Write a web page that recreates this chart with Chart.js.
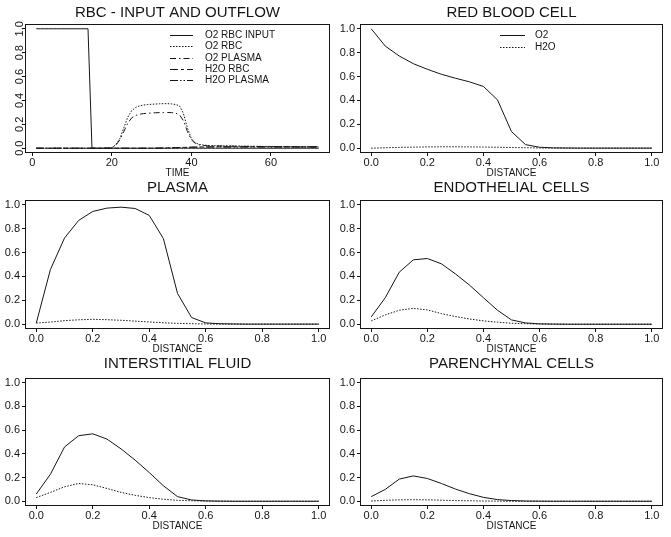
<!DOCTYPE html>
<html><head><meta charset="utf-8">
<script src="https://cdn.jsdelivr.net/npm/chart.js@4/dist/chart.umd.min.js"></script>
<style>
html,body{margin:0;padding:0;background:#fff;}
body{width:671px;height:537px;position:relative;overflow:hidden;}
canvas{position:absolute;}
</style></head><body>
<canvas id="c1"></canvas><canvas id="c2"></canvas><canvas id="c3"></canvas>
<canvas id="c4"></canvas><canvas id="c5"></canvas><canvas id="c6"></canvas>
<script>
// ---------- data ----------
const TIME = [1,2,3,4,5,6,7,8,9,10,11,12,13,14,15,16,17,18,19,20,21,22,23,24,25,26,27,28,29,30,31,32,33,34,35,36,37,38,39,40,41,42,43,44,45,46,47,48,49,50,51,52,53,54,55,56,57,58,59,60,61,62,63,64,65,66,67,68,69,70,71,72];
const O2_RBC_INPUT = [1,1,1,1,1,1,1,1,1,1,1,1,1,1,0,0,0,0,0,0,0,0,0,0,0,0,0,0,0,0,0,0,0,0,0,0,0,0,0,0,0,0,0,0,0,0,0,0,0,0,0,0,0,0,0,0,0,0,0,0,0,0,0,0,0,0,0,0,0,0,0,0];
const O2_RBC = [0,0,0,0,0,0,0,0,0,0,0,0,0,0,0,0,0,0,0,0.004,0.03,0.08,0.17,0.26,0.315,0.342,0.355,0.362,0.366,0.368,0.37,0.372,0.373,0.373,0.371,0.366,0.355,0.29,0.17,0.08,0.045,0.032,0.027,0.024,0.022,0.021,0.02,0.02,0.019,0.019,0.018,0.018,0.017,0.017,0.016,0.016,0.016,0.015,0.015,0.015,0.014,0.014,0.014,0.013,0.013,0.013,0.013,0.012,0.012,0.012,0.012,0.012];
const O2_PLASMA = [0,0,0,0,0,0,0,0,0,0,0,0,0,0,0,0,0,0,0,0.003,0.025,0.07,0.14,0.21,0.255,0.275,0.285,0.29,0.293,0.295,0.297,0.298,0.299,0.299,0.298,0.294,0.28,0.23,0.14,0.07,0.04,0.028,0.023,0.021,0.02,0.019,0.019,0.018,0.018,0.017,0.017,0.016,0.016,0.015,0.015,0.015,0.014,0.014,0.014,0.013,0.013,0.013,0.012,0.012,0.012,0.012,0.011,0.011,0.011,0.011,0.011,0.011];
const H2O_RBC = [0,0,0,0,0,0,0,0,0,0,0,0,0,0,0,0,0,0,0,0,0,0,0,0,0,0,0,0,0,0,0.001,0.001,0.002,0.003,0.004,0.005,0.006,0.007,0.008,0.009,0.01,0.01,0.011,0.011,0.012,0.012,0.012,0.012,0.012,0.012,0.012,0.012,0.012,0.012,0.012,0.012,0.012,0.012,0.012,0.012,0.012,0.012,0.012,0.012,0.012,0.012,0.012,0.012,0.012,0.012,0.012,0.012];
const H2O_PLASMA = [0,0,0,0,0,0,0,0,0,0,0,0,0,0,0,0,0,0,0,0,0,0,0,0,0,0,0,0,0,0,0,0.001,0.001,0.002,0.003,0.004,0.005,0.006,0.007,0.008,0.008,0.009,0.009,0.009,0.01,0.01,0.01,0.01,0.01,0.01,0.01,0.01,0.01,0.01,0.01,0.01,0.01,0.01,0.01,0.01,0.01,0.01,0.01,0.01,0.01,0.01,0.01,0.01,0.01,0.01,0.01,0.01];

const DISTANCE = [0,0.05,0.1,0.15,0.2,0.25,0.3,0.35,0.4,0.45,0.5,0.55,0.6,0.65,0.7,0.75,0.8,0.85,0.9,0.95,1.0];
const RBC_O2 = [1.0,0.855,0.772,0.708,0.661,0.619,0.586,0.556,0.517,0.405,0.139,0.03,0.008,0.003,0.002,0.001,0.001,0.001,0.001,0.001,0.001];
const RBC_H2O = [0.0,0.004,0.007,0.009,0.011,0.012,0.012,0.011,0.01,0.008,0.006,0.004,0.002,0.001,0,0,0,0,0,0,0];
const PLASMA_O2 = [0.01,0.458,0.722,0.869,0.944,0.972,0.98,0.969,0.911,0.717,0.258,0.056,0.011,0.004,0.002,0.001,0.001,0.001,0.001,0.001,0.001];
const PLASMA_H2O = [0.01,0.018,0.03,0.037,0.041,0.038,0.033,0.026,0.019,0.012,0.007,0.004,0.002,0.001,0.001,0,0,0,0,0,0];
const ENDO_O2 = [0.061,0.222,0.436,0.539,0.55,0.506,0.422,0.328,0.222,0.117,0.036,0.011,0.003,0.001,0,0,0,0,0,0,0];
const ENDO_H2O = [0.028,0.078,0.117,0.133,0.12,0.089,0.064,0.044,0.028,0.017,0.008,0.004,0.002,0.001,0,0,0,0,0,0,0];
const ISF_O2 = [0.061,0.228,0.458,0.553,0.569,0.525,0.442,0.347,0.242,0.131,0.039,0.011,0.003,0.001,0,0,0,0,0,0,0];
const ISF_H2O = [0.031,0.075,0.122,0.15,0.139,0.108,0.075,0.05,0.031,0.017,0.008,0.004,0.002,0.001,0,0,0,0,0,0,0];
const PAR_O2 = [0.039,0.1,0.187,0.214,0.192,0.15,0.103,0.064,0.033,0.014,0.006,0.002,0.001,0,0,0,0,0,0,0,0];
const PAR_H2O = [0.002,0.008,0.012,0.013,0.012,0.009,0.006,0.004,0.002,0.001,0,0,0,0,0,0,0,0,0,0,0];

const Y_TICKS = [0,0.2,0.4,0.6,0.8,1.0];
const TIME_TICKS = [0,20,40,60];
const DIST_TICKS = [0,0.2,0.4,0.6,0.8,1.0];

// ---------- styles ----------
const FONT = '"Liberation Sans", Arial, Helvetica, sans-serif';
const INK = '#151515';
const SOLID = [], DOT = [1.5,1.5], DASHDOT = [6,3,1.5,3], LONGSHORT = [8,3,3,3], DASHDOTDOT = [8,2,1.5,2,1.5,2];
Chart.defaults.font.family = FONT;
Chart.defaults.color = INK;

const framePlugin = {
  id: 'frame',
  afterDatasetsDraw(chart, args, o) {
    const {ctx, chartArea: a} = chart;
    ctx.save();
    ctx.strokeStyle = INK; ctx.lineWidth = 1; ctx.setLineDash([]);
    const l = Math.round(a.left) + 0.5, t = Math.round(a.top) + 0.5;
    const r = Math.round(a.right) - 0.5, b = Math.round(a.bottom) - 0.5;
    ctx.strokeRect(l, t, r - l, b - t);
    if (o && o.legend) {
      const L = o.legend;
      ctx.font = '10px ' + FONT; ctx.fillStyle = INK; ctx.textBaseline = 'middle'; ctx.textAlign = 'left';
      chart.data.datasets.forEach((ds, i) => {
        const y = Math.round(L.y0 + i * L.dy) + 0.5;
        ctx.beginPath(); ctx.setLineDash(ds.borderDash || []);
        ctx.moveTo(L.x0, y); ctx.lineTo(L.x1, y); ctx.stroke();
        ctx.setLineDash([]);
        ctx.fillText(ds.label, L.tx, y);
      });
    }
    ctx.restore();
  }
};

function makePanel(id, box, title, titlePad, xs, series, xOpt, legend, rotatedY) {
  const cv = document.getElementById(id);
  cv.width = box.w; cv.height = box.h;
  cv.style.left = box.x + 'px'; cv.style.top = box.y + 'px';
  cv.style.width = box.w + 'px'; cv.style.height = box.h + 'px';
  const datasets = series.map(s => ({
    label: s.label,
    data: s.data.map((v, i) => ({x: xs[i], y: v})),
    borderColor: INK, borderWidth: 1, borderDash: s.dash,
    pointRadius: 0, tension: 0, fill: false
  }));
  const yTicks = rotatedY
    ? {font: {size: 11}, color: INK, minRotation: 90, maxRotation: 90, crossAlign: 'center', padding: -6, callback: v => v.toFixed(1)}
    : {font: {size: 11}, color: INK, padding: 2, callback: v => v.toFixed(1)};
  new Chart(cv, {
    type: 'line',
    data: {datasets},
    options: {
      responsive: false, animation: false,
      layout: {padding: {left: 0, right: box.pr, top: 0, bottom: box.pb}},
      plugins: {
        legend: {display: false}, tooltip: {enabled: false},
        title: {display: true, fullSize: false, text: title, color: INK, font: {size: 15, weight: 'normal'}, padding: titlePad},
        frame: {legend}
      },
      scales: {
        x: {
          type: 'linear', min: xOpt.min, max: xOpt.max,
          afterBuildTicks: s => { s.ticks = xOpt.ticks.map(v => ({value: v})); },
          afterFit: s => { s.height = 26; },
          grid: {drawOnChartArea: false, drawTicks: true, tickLength: 3, color: INK},
          border: {display: false},
          ticks: {font: {size: 11}, color: INK, padding: 0, maxRotation: 0, autoSkip: false, callback: xOpt.fmt},
          title: {display: true, text: xOpt.title, color: INK, font: {size: 10}, padding: {top: 0, bottom: 0}}
        },
        y: {
          type: 'linear', min: -0.04, max: 1.04,
          afterBuildTicks: s => { s.ticks = Y_TICKS.map(v => ({value: v})); },
          afterFit: s => { s.width = 25; },
          grid: {drawOnChartArea: false, drawTicks: true, tickLength: 3, color: INK},
          border: {display: false},
          ticks: yTicks
        }
      }
    },
    plugins: [framePlugin]
  });
}

const timeX = {min: -1.84, max: 74.84, ticks: TIME_TICKS, fmt: v => String(v), title: 'TIME'};
const distX = {min: -0.04, max: 1.04, ticks: DIST_TICKS, fmt: v => v.toFixed(1), title: 'DISTANCE'};

const L = {w: 335, pr: 5}, R = {w: 336, pr: 8};
const rows = [{y: 0, h: 180, pb: 1, tp: {top: 4, bottom: 2}},
              {y: 176, h: 180, pb: 1, tp: {top: 3, bottom: 3}},
              {y: 354, h: 183, pb: 5, tp: {top: 1, bottom: 5}}];
function bx(col, row, x) { return {x, y: row.y, w: col.w, h: row.h, pr: col.pr, pb: row.pb}; }

makePanel('c1', bx(L, rows[0], 0), 'RBC - INPUT AND OUTFLOW', rows[0].tp, TIME, [
  {label: 'O2 RBC INPUT', data: O2_RBC_INPUT, dash: SOLID},
  {label: 'O2 RBC', data: O2_RBC, dash: DOT},
  {label: 'O2 PLASMA', data: O2_PLASMA, dash: DASHDOT},
  {label: 'H2O RBC', data: H2O_RBC, dash: LONGSHORT},
  {label: 'H2O PLASMA', data: H2O_PLASMA, dash: DASHDOTDOT}
], timeX, {x0: 170, x1: 193, tx: 205, y0: 35, dy: 11.3}, true);

makePanel('c2', bx(R, rows[0], 335), 'RED BLOOD CELL', rows[0].tp, DISTANCE, [
  {label: 'O2', data: RBC_O2, dash: SOLID},
  {label: 'H2O', data: RBC_H2O, dash: DOT}
], distX, {x0: 165, x1: 190, tx: 200, y0: 35, dy: 12}, false);

makePanel('c3', bx(L, rows[1], 0), 'PLASMA', rows[1].tp, DISTANCE, [
  {label: 'O2', data: PLASMA_O2, dash: SOLID},
  {label: 'H2O', data: PLASMA_H2O, dash: DOT}
], distX, null, false);

makePanel('c4', bx(R, rows[1], 335), 'ENDOTHELIAL CELLS', rows[1].tp, DISTANCE, [
  {label: 'O2', data: ENDO_O2, dash: SOLID},
  {label: 'H2O', data: ENDO_H2O, dash: DOT}
], distX, null, false);

makePanel('c5', bx(L, rows[2], 0), 'INTERSTITIAL FLUID', rows[2].tp, DISTANCE, [
  {label: 'O2', data: ISF_O2, dash: SOLID},
  {label: 'H2O', data: ISF_H2O, dash: DOT}
], distX, null, false);

makePanel('c6', bx(R, rows[2], 335), 'PARENCHYMAL CELLS', rows[2].tp, DISTANCE, [
  {label: 'O2', data: PAR_O2, dash: SOLID},
  {label: 'H2O', data: PAR_H2O, dash: DOT}
], distX, null, false);
</script>
</body></html>
